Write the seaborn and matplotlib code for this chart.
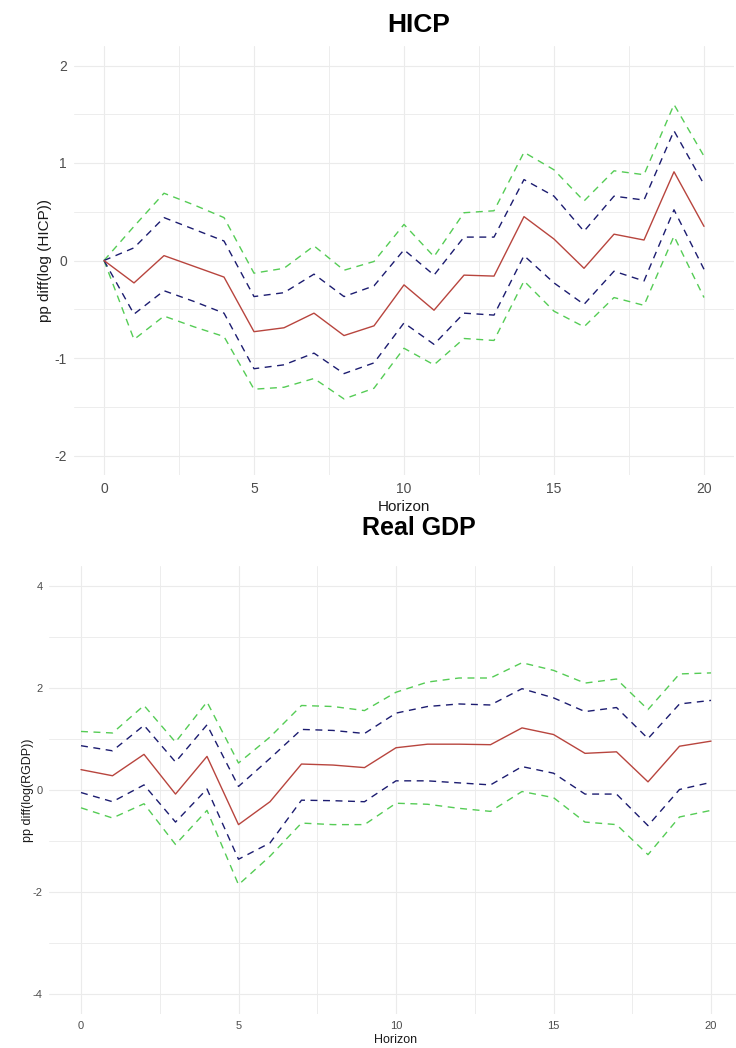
import matplotlib
matplotlib.use("Agg")
import numpy as np
import pandas as pd
import seaborn as sns
import matplotlib.pyplot as plt
from matplotlib.ticker import MultipleLocator, FixedLocator

# ---------------- data ----------------
horizon = list(range(21))

hicp_median = [0.00, -0.23, 0.05, -0.06, -0.17, -0.73, -0.69, -0.54, -0.77, -0.67,
               -0.25, -0.51, -0.15, -0.16, 0.45, 0.22, -0.08, 0.27, 0.21, 0.91, 0.35]
hicp_upper68 = [0.00, 0.13, 0.44, 0.32, 0.20, -0.37, -0.33, -0.14, -0.37, -0.26,
                0.11, -0.15, 0.24, 0.24, 0.83, 0.66, 0.30, 0.66, 0.62, 1.33, 0.78]
hicp_lower68 = [0.00, -0.55, -0.31, -0.42, -0.54, -1.11, -1.07, -0.95, -1.16, -1.05,
                -0.64, -0.86, -0.54, -0.56, 0.05, -0.23, -0.45, -0.11, -0.21, 0.52, -0.09]
hicp_upper90 = [0.00, 0.35, 0.69, 0.57, 0.44, -0.13, -0.08, 0.15, -0.10, -0.01,
                0.37, 0.04, 0.49, 0.51, 1.11, 0.93, 0.61, 0.92, 0.88, 1.60, 1.07]
hicp_lower90 = [0.00, -0.81, -0.57, -0.68, -0.78, -1.32, -1.30, -1.21, -1.42, -1.31,
                -0.90, -1.07, -0.80, -0.82, -0.21, -0.52, -0.68, -0.38, -0.46, 0.25, -0.38]

gdp_median = [0.40, 0.28, 0.70, -0.08, 0.66, -0.68, -0.23, 0.51, 0.49, 0.44,
              0.83, 0.90, 0.90, 0.89, 1.22, 1.09, 0.72, 0.75, 0.16, 0.86, 0.96]
gdp_upper68 = [0.87, 0.77, 1.27, 0.55, 1.28, 0.07, 0.62, 1.19, 1.17, 1.11,
               1.51, 1.64, 1.69, 1.67, 1.99, 1.81, 1.54, 1.62, 1.01, 1.69, 1.76]
gdp_lower68 = [-0.05, -0.23, 0.10, -0.63, 0.02, -1.36, -1.04, -0.20, -0.21, -0.23,
               0.18, 0.18, 0.14, 0.10, 0.46, 0.33, -0.08, -0.08, -0.70, 0.01, 0.15]
gdp_upper90 = [1.15, 1.12, 1.66, 0.94, 1.73, 0.53, 1.04, 1.66, 1.64, 1.56,
               1.92, 2.12, 2.20, 2.20, 2.50, 2.35, 2.10, 2.18, 1.58, 2.28, 2.30]
gdp_lower90 = [-0.35, -0.55, -0.27, -1.07, -0.40, -1.86, -1.30, -0.65, -0.68, -0.68,
               -0.26, -0.28, -0.36, -0.42, -0.03, -0.15, -0.63, -0.68, -1.27, -0.53, -0.40]

series_names = ["upper90", "lower90", "upper68", "lower68", "median"]

# ---------------- style ----------------
sns.set_theme(style="white")
plt.rcParams["font.family"] = ["Liberation Sans", "DejaVu Sans"]
plt.rcParams["axes.unicode_minus"] = False

colors = {"upper90": "#55cc55", "lower90": "#55cc55",
          "upper68": "#1c1c70", "lower68": "#1c1c70",
          "median": "#b8453e"}
dashes = {"upper90": (5, 4), "lower90": (5, 4),
          "upper68": (5, 4), "lower68": (5, 4),
          "median": ""}


def long_df(med, u68, l68, u90, l90):
    vals = {"median": med, "upper68": u68, "lower68": l68,
            "upper90": u90, "lower90": l90}
    rows = []
    for name in series_names:
        for h, v in zip(horizon, vals[name]):
            rows.append({"Horizon": h, "value": v, "series": name})
    return pd.DataFrame(rows)


def draw(ax, df, ylim, ymajor, yminor, tick_fs, lab_fs, ylabel, ylab_x, xlabpad):
    sns.lineplot(data=df, x="Horizon", y="value", hue="series", style="series",
                 hue_order=series_names, style_order=series_names,
                 palette=colors, dashes=dashes, linewidth=1.0,
                 legend=False, ax=ax, sort=False, estimator=None)
    ax.set_xlim(-1, 21)
    ax.set_ylim(*ylim)
    ax.xaxis.set_major_locator(FixedLocator([0, 5, 10, 15, 20]))
    ax.xaxis.set_minor_locator(FixedLocator([2.5, 7.5, 12.5, 17.5]))
    ax.yaxis.set_major_locator(MultipleLocator(ymajor))
    ax.yaxis.set_minor_locator(MultipleLocator(yminor))
    ax.grid(which="major", color="#ebebeb", linewidth=0.8)
    ax.grid(which="minor", color="#ededed", linewidth=0.7)
    ax.set_axisbelow(True)
    for s in ax.spines.values():
        s.set_visible(False)
    ax.tick_params(which="both", length=0, labelcolor="#4d4d4d",
                   labelsize=tick_fs, pad=5)
    ax.set_xlabel("Horizon", fontsize=lab_fs, color="#1a1a1a", labelpad=xlabpad)
    ax.set_ylabel(ylabel, fontsize=lab_fs, color="#1a1a1a")
    ax.yaxis.set_label_coords(ylab_x, 0.5)


W, H = 736, 1048
fig = plt.figure(figsize=(W / 100, H / 100), dpi=100)

ax1 = fig.add_axes([74 / W, 1 - 475 / H, 660 / W, 429 / H])
draw(ax1, long_df(hicp_median, hicp_upper68, hicp_lower68, hicp_upper90, hicp_lower90),
     (-2.2, 2.2), 1, 0.5, 10, 11, "pp diff(log (HICP))", -0.033, 3)

ax2 = fig.add_axes([49.5 / W, 1 - 1014 / H, 693 / W, 448 / H])
draw(ax2, long_df(gdp_median, gdp_upper68, gdp_lower68, gdp_upper90, gdp_lower90),
     (-4.4, 4.4), 2, 1, 8, 9, "pp diff(log(RGDP))", -0.023, 2)

fig.text(419 / W, 1 - 25 / H, "HICP", ha="center", va="center",
         fontsize=19, fontweight="bold", color="black")
fig.text(419 / W, 1 - 528 / H, "Real GDP", ha="center", va="center",
         fontsize=18, fontweight="bold", color="black")

fig.savefig("out.png", dpi=100, facecolor="white")
